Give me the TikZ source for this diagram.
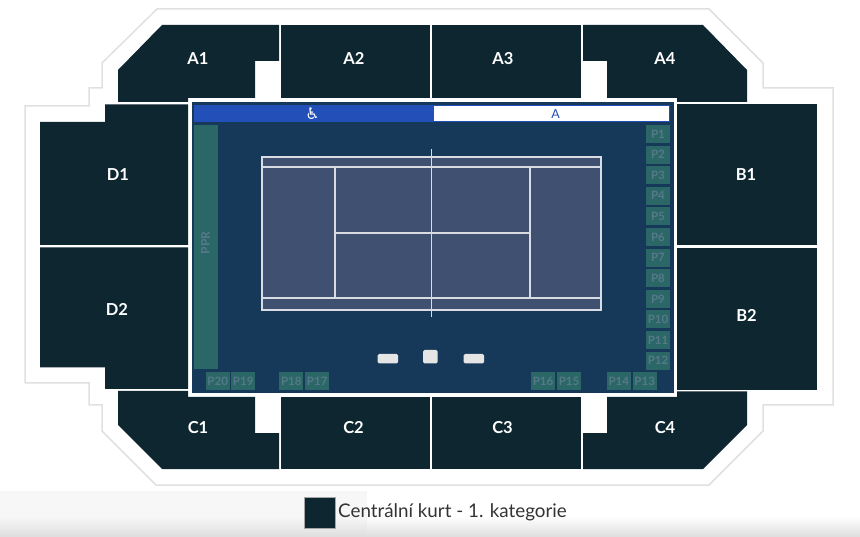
\documentclass[tikz,border=0pt]{standalone}
\usepackage{fontspec}
\usetikzlibrary{positioning}
\setmainfont{Lato}
\newfontfamily\symbolfont{DejaVu Sans}
\definecolor{sectorcol}{HTML}{0D262F}
\definecolor{arenacol}{HTML}{16395A}
\definecolor{stripcol}{HTML}{234FB8}
\definecolor{parkcol}{HTML}{2C6767}
\definecolor{parktext}{HTML}{56798A}
\definecolor{courtcol}{HTML}{3F5071}
\definecolor{outlinecol}{HTML}{E0E0E0}
\tikzset{
    sector/.style={fill=sectorcol},
    sectorlabel/.style={text=white,font=\fontsize{16.5}{18}\selectfont\bfseries,inner sep=0pt},
    parking/.style={fill=parkcol,text=parktext,minimum width=24pt,minimum height=18pt,inner sep=0pt,font=\fontsize{11.5}{12}\selectfont\bfseries},
    courtline/.style={draw=white!80!courtcol,line width=1.1pt},
    chair/.style={fill=white!90!black,rounded corners=1.5pt}
}
\begin{document}
\begin{tikzpicture}[x=1pt,y=-1pt]
    \useasboundingbox (0,0) rectangle (860,537);
    \fill[white!97!black] (0,491) rectangle (367,517);
    \shade[top color=white!97!black,bottom color=white!87!black] (0,516) rectangle (367,537);
    \shade[top color=white,bottom color=white!87!black] (367,516) rectangle (860,537);
    \draw[outlinecol,line width=1.5pt] (157,9) --(709,9) --(763,63) --(763,88) --(833,88) --(833,405) --(763,405) --(763,431) --(709,485) --(156,485) --(102,431) --(102,405) --(89,405) --(89,383) --(25,383) --(25,106) --(89,106) --(89,88) --(102,88) --(102,63) --cycle;

    \fill[sector] (162,25) --(279,25) --(279,61) --(255,61) --(255,98) --(188,98) --(188,102) --(118,102) --(118,70) --cycle;
    \fill[sector] (281,25) rectangle (430,98);
    \fill[sector] (432,25) rectangle (581,98);
    \fill[sector] (583,25) --(703,25) --(747,70) --(747,102) --(677,102) --(677,98) --(607,98) --(607,61) --(583,61) --cycle;
    \fill[sector] (105,104.5) --(188,104.5) --(188,245) --(40,245) --(40,122) --(105,122) --cycle;
    \fill[sector] (40,247.5) --(188,247.5) --(188,389) --(105,389) --(105,367.5) --(40,367.5) --cycle;
    \fill[sector] (677,104) rectangle (817,245);
    \fill[sector] (677,248) rectangle (817,390);
    \fill[sector] (118,391) --(188,391) --(188,397) --(255,397) --(255,433) --(279,433) --(279,469) --(162,469) --(118,425) --cycle;
    \fill[sector] (281,397) rectangle (430,469);
    \fill[sector] (432,397) rectangle (581,469);
    \fill[sector] (607,397) --(677,397) --(677,391.5) --(747,391.5) --(747,425) --(703,469) --(583,469) --(583,433) --(607,433) --cycle;

    \node[sectorlabel] (a1) at (198,58.7) {A1};
    \node[sectorlabel] (a2) at (354,58.7) {A2};
    \node[sectorlabel] (a3) at (503,58.7) {A3};
    \node[sectorlabel] (a4) at (665,58.7) {A4};
    \node[sectorlabel] (b1) at (746,174.7) {B1};
    \node[sectorlabel] (b2) at (746.5,315.7) {B2};
    \node[sectorlabel] (c1) at (198,427.7) {C1};
    \node[sectorlabel] (c2) at (353.5,427.7) {C2};
    \node[sectorlabel] (c3) at (502.5,427.7) {C3};
    \node[sectorlabel] (c4) at (665,427.7) {C4};
    \node[sectorlabel] (d1) at (118,174.7) {D1};
    \node[sectorlabel] (d2) at (117,309.7) {D2};

    \draw[white,fill=arenacol,line width=3pt] (190,100.5) rectangle (675,395);
    \fill[stripcol] (194,105) rectangle (433,122);
    \draw[stripcol,fill=white,line width=1pt] (433.5,105.5) rectangle (669,122);
    \node[white,inner sep=0pt,font=\symbolfont\fontsize{16}{16}\selectfont] (wheelchair) at (312.5,114) {♿};
    \node[stripcol,inner sep=0pt,font=\fontsize{12.5}{13}\selectfont] (stripa) at (555.5,114) {A};

    \fill[parkcol] (194,125) rectangle (218,369);
    \node[parktext,rotate=90,inner sep=0pt,font=\fontsize{12}{12}\selectfont\bfseries] (ppr) at (205.5,243) {PPR};
    \foreach \n in {1,...,12}
        \node[parking] (p\n) at (658,{134+20.6*(\n-1)}) {P\n};
    \foreach \n/\xpos in {13/644.7,14/618.8,15/569,16/543,17/317.2,18/291.3,19/243.2,20/217.7}
        \node[parking] (p\n) at (\xpos,381) {P\n};

    \draw[courtline,fill=courtcol] (262,157) rectangle (601,310);
    \draw[courtline] (262,167) --(601,167);
    \draw[courtline] (262,298) --(601,298);
    \draw[courtline] (335,167) --(335,298);
    \draw[courtline] (530,167) --(530,298);
    \draw[courtline] (335,233) --(530,233);
    \draw[courtline] (431.5,149) --(431.5,317);

    \fill[chair] (377.5,354) rectangle (398,363.5);
    \fill[chair] (423,350) rectangle (437.5,363.5);
    \fill[chair] (463.5,354) rectangle (484,363.5);

    \node[draw=gray!70,fill=sectorcol,minimum size=31pt,inner sep=0pt] (legendbox) at (319.3,512.3) {};
    \node[right=3pt of legendbox,inner sep=0pt,text=black!80,font=\fontsize{18.8}{22}\selectfont] (legendtext) {Centrální kurt - 1. kategorie};
\end{tikzpicture}
\end{document}
